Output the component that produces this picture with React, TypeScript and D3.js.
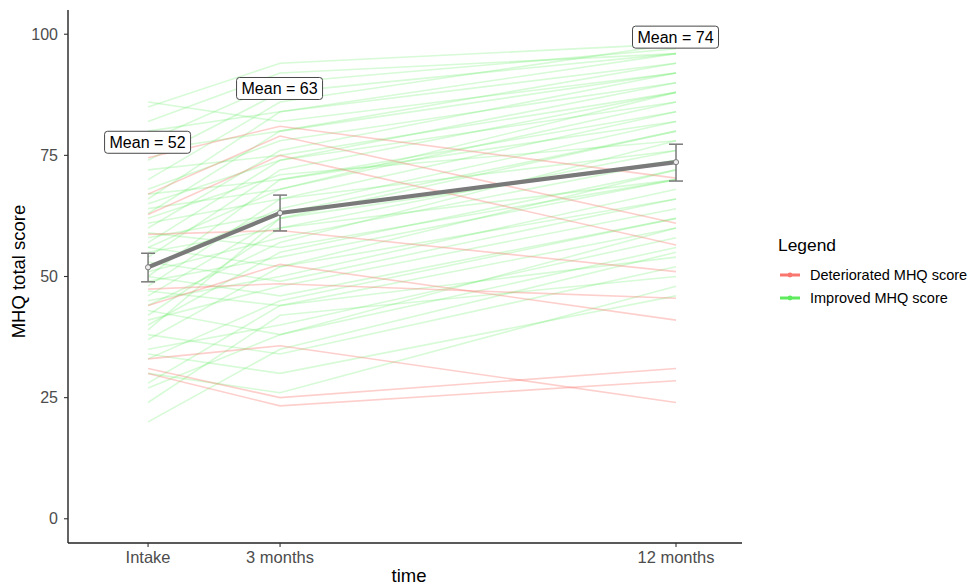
import React from "react";
import * as d3 from "d3";

const timePoints = [0, 3, 12];
const timeLabels = ["Intake", "3 months", "12 months"];
const yTicks = [0, 25, 50, 75, 100];

// Individual trajectories: [intake, 3 months, 12 months]
const improvedScores: number[][] = [
  [20, 35, 55], [24, 42, 50], [27, 38, 60], [30, 26, 48], [33, 45, 62],
  [35, 40, 58], [37, 52, 66], [38, 34, 52], [40, 55, 72], [41, 48, 64],
  [42, 60, 70], [43, 38, 56], [44, 57, 78], [45, 50, 68], [46, 62, 80],
  [47, 44, 60], [48, 66, 76], [49, 54, 70], [50, 70, 84], [50, 46, 62],
  [51, 58, 74], [52, 64, 82], [53, 49, 66], [54, 72, 88], [55, 60, 76],
  [56, 68, 86], [56, 52, 72], [57, 74, 90], [58, 63, 80], [59, 56, 70],
  [60, 76, 92], [61, 66, 84], [62, 71, 78], [63, 80, 94], [64, 68, 88],
  [65, 74, 86], [66, 84, 96], [67, 70, 82], [68, 78, 90], [70, 86, 98],
  [72, 75, 88], [74, 88, 96], [76, 80, 92], [78, 90, 97], [80, 84, 94],
  [82, 92, 96], [85, 94, 98], [86, 82, 92], [34, 30, 46], [28, 44, 54],
  [39, 62, 74],
];
const deterioratedScores: number[][] = [
  [74.5, 81, 70.3], [67, 79, 61], [62.8, 75, 56.5], [58.7, 59.5, 51],
  [44, 52.5, 41], [47.4, 48.5, 45.5], [33, 35.7, 24], [31, 25, 31], [30, 23.3, 28.5],
];

const meanValues = [51.9, 63.1, 73.6];
const ciLower = [48.9, 59.4, 69.7];
const ciUpper = [54.8, 66.8, 77.3];
const meanLabels = ["Mean = 52", "Mean = 63", "Mean = 74"];
const labelY = [77.7, 88.8, 99.4];

const legendTitle = "Legend";
const legendItems = ["Deteriorated MHQ score", "Improved MHQ score"];
const legendColors = ["#F8766D", "#5EEB5E"];

const W = 970;
const H = 585;
const font = "'Liberation Sans', Arial, Helvetica, sans-serif";

export default function App() {
  const x = d3.scaleLinear().domain([-1.82, 13.5]).range([68, 742]);
  const y = d3.scaleLinear().domain([-5, 105]).range([543, 10]);
  const line = d3
    .line<number>()
    .x((_, i) => x(timePoints[i]))
    .y((d) => y(d));

  return (
    <svg
      width={W}
      height={H}
      style={{ position: "absolute", left: 0, top: 0, background: "#fff" }}
      fontFamily={font}
    >
      <rect x={0} y={0} width={W} height={H} fill="#fff" />
      {/* individual lines */}
      <g fill="none" strokeWidth={1.6}>
        {improvedScores.map((s, i) => (
          <path key={"g" + i} d={line(s) || ""} stroke={legendColors[1]} strokeOpacity={0.25} />
        ))}
        {deterioratedScores.map((s, i) => (
          <path key={"r" + i} d={line(s) || ""} stroke={legendColors[0]} strokeOpacity={0.35} />
        ))}
      </g>
      {/* mean line */}
      <path d={line(meanValues) || ""} fill="none" stroke="#7a7a7a" strokeWidth={4.2} />
      {/* error bars */}
      <g stroke="#7a7a7a" strokeWidth={1.5}>
        {timePoints.map((t, i) => (
          <g key={"e" + i}>
            <line x1={x(t)} x2={x(t)} y1={y(ciLower[i])} y2={y(ciUpper[i])} />
            <line x1={x(t) - 7} x2={x(t) + 7} y1={y(ciLower[i])} y2={y(ciLower[i])} />
            <line x1={x(t) - 7} x2={x(t) + 7} y1={y(ciUpper[i])} y2={y(ciUpper[i])} />
          </g>
        ))}
      </g>
      {timePoints.map((t, i) => (
        <circle key={"m" + i} cx={x(t)} cy={y(meanValues[i])} r={2.6} fill="#eeeeee" stroke="#7a7a7a" strokeWidth={1} />
      ))}
      {/* mean labels */}
      {timePoints.map((t, i) => (
        <g key={"l" + i} transform={`translate(${x(t) - 0.5},${y(labelY[i])})`}>
          <rect x={-43} y={-11} width={86} height={22} rx={3} fill="#fff" stroke="#333" strokeWidth={0.9} />
          <text x={0} y={5.6} textAnchor="middle" fontSize={16} fill="#000">
            {meanLabels[i]}
          </text>
        </g>
      ))}
      {/* y axis */}
      <line x1={68} x2={68} y1={10} y2={543} stroke="#222" strokeWidth={1.4} />
      {yTicks.map((v) => (
        <g key={"yt" + v}>
          <line x1={64} x2={68} y1={y(v)} y2={y(v)} stroke="#333" strokeWidth={1.1} />
          <text x={58} y={y(v) + 5.7} textAnchor="end" fontSize={16} fill="#4d4d4d">
            {v}
          </text>
        </g>
      ))}
      {/* x axis */}
      <line x1={68} x2={742} y1={543} y2={543} stroke="#222" strokeWidth={1.4} />
      {timePoints.map((t, i) => (
        <g key={"xt" + i}>
          <line x1={x(t)} x2={x(t)} y1={543} y2={547} stroke="#333" strokeWidth={1.1} />
          <text x={x(t)} y={563} textAnchor="middle" fontSize={16.5} fill="#4d4d4d">
            {timeLabels[i]}
          </text>
        </g>
      ))}
      <text x={409} y={582} textAnchor="middle" fontSize={18.5} fill="#000">
        time
      </text>
      <text
        transform={`translate(25,${(10 + 543) / 2 - 5}) rotate(-90)`}
        textAnchor="middle"
        fontSize={18.5}
        fill="#000"
      >
        MHQ total score
      </text>
      {/* legend */}
      <text x={778} y={251} fontSize={17.4} fill="#000">
        {legendTitle}
      </text>
      {legendItems.map((name, i) => (
        <g key={"lg" + i} transform={`translate(778,${275 + i * 23})`}>
          <line x1={2} x2={22} y1={0} y2={0} stroke={legendColors[i]} strokeWidth={3} />
          <circle cx={12} cy={0} r={2.4} fill={legendColors[i]} />
          <text x={32} y={5} fontSize={14.5} fill="#000">
            {name}
          </text>
        </g>
      ))}
    </svg>
  );
}
